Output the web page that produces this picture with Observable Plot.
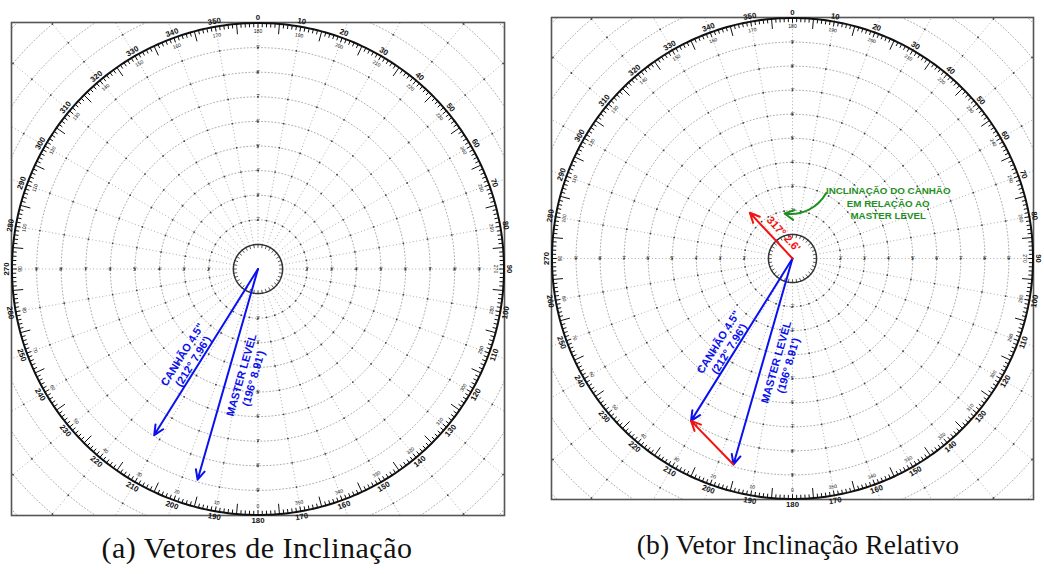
<!DOCTYPE html>
<html><head><meta charset="utf-8">
<script src="https://cdn.jsdelivr.net/npm/d3@7"></script>
<script src="https://cdn.jsdelivr.net/npm/@observablehq/plot@0.6"></script>
<style>
html,body{margin:0;padding:0;background:#fff;}
#root{position:relative;width:1044px;height:574px;overflow:hidden;background:#fff;}
.panel{position:absolute;}
.cap{position:absolute;font-family:"Liberation Serif","Times New Roman",serif;color:#111;white-space:nowrap;transform:translateX(-50%);line-height:34px;}
</style></head><body><div id="root"></div>
<script>
// ---- data ----
const bearingTicks = d3.range(0, 360, 10);
const degreeTicks = d3.range(0, 360, 1);
const ringValues = d3.range(1, 15);
const ringLabelValues = d3.range(2, 10);
const cardinalBearings = [0, 90, 180, 270];
const vectorNames = ["CANHÃO 4.5\"", "MASTER LEVEL"];
const vectorBearings = [212, 196];
const vectorMinutes = [7.96, 8.91];
const relativeBearing = 317;
const relativeMinutes = 2.6;
const annotationLines = ["INCLINAÇÃO DO CANHÃO", "EM RELAÇÃO AO", "MASTER LEVEL"];
const captions = ["(a) Vetores de Inclinação", "(b) Vetor Inclinação Relativo"];

// ---- helpers ----
const rad = d => d * Math.PI / 180;
const px = (b, r) => r * Math.sin(rad(b));
const py = (b, r) => r * Math.cos(rad(b));
const rot = b => (b > 90 && b < 270) ? b - 180 : b;

const BLUE = "#0a10f0", RED = "#f21212", GREEN = "#1f8f1f";
const D = 10.02, M = 18;

function circlePts(k, step) {
  return d3.range(0, 360 + step, step).map(a => ({k, x: px(a, k), y: py(a, k)}));
}

function panel(relative, SIZE) {
  const rings = ringValues.flatMap(k => circlePts(k, 2));
  const inters = ringValues.filter(k => k >= 2).flatMap(k => bearingTicks.map(b => ({x: px(b, k), y: py(b, k)})));
  const tickLen = b => b % 10 === 0 ? 0.2 : (b % 5 === 0 ? 0.42 : 0.17);
  const ringLabels = cardinalBearings.flatMap(b => ringLabelValues.map(k => ({b, k})));
  const vectors = vectorNames.map((name, i) => ({name, b: vectorBearings[i], m: vectorMinutes[i],
    label: `${name}\n(${vectorBearings[i]}° ${vectorMinutes[i]}')`}));
  const labelAlong = [4.58, 4.33], labelPerp = [0.52, -0.78];

  const marks = [
    Plot.line(rings.filter(d => d.k !== 1), {x: "x", y: "y", z: "k", stroke: "#a4a4a4", strokeWidth: 0.9, strokeDasharray: "1,2.4", clip: true}),
    Plot.link(bearingTicks, {x1: b => px(b, 1), y1: b => py(b, 1), x2: b => px(b, 15), y2: b => py(b, 15), stroke: "#a4a4a4", strokeWidth: 0.9, strokeDasharray: "1,2.4", clip: true}),
    Plot.dot(inters, {x: "x", y: "y", r: 0.9, fill: "#444", clip: true}),
    Plot.frame({stroke: "#555", strokeWidth: 1.6}),
    // compass ring
    Plot.line(circlePts(10, 1), {x: "x", y: "y", stroke: "#111", strokeWidth: 2}),
    Plot.link(degreeTicks, {x1: b => px(b, 10), y1: b => py(b, 10), x2: b => px(b, 10 - tickLen(b)), y2: b => py(b, 10 - tickLen(b)), stroke: "#111", strokeWidth: 1}),
    Plot.text(bearingTicks, {x: b => px(b, 10.22), y: b => py(b, 10.22), text: b => String(b), rotate: rot, fontSize: 7.8, fontWeight: "bold", fill: "#111"}),
    Plot.text(bearingTicks, {x: b => px(b, 9.64), y: b => py(b, 9.64), text: b => String((b + 180) % 360), rotate: rot, fontSize: 5, fill: "#111"}),
    // ring labels
    Plot.text(ringLabels, {x: d => px(d.b, d.k), y: d => py(d.b, d.k), text: d => `${d.k}'`, fontSize: 5, fill: "#333"}),
    // inner circle
    Plot.line(circlePts(1, 2), {x: "x", y: "y", stroke: "#333", strokeWidth: 1.5}),
    Plot.link(bearingTicks, {x1: b => px(b, 1), y1: b => py(b, 1), x2: b => px(b, 0.86), y2: b => py(b, 0.86), stroke: "#333", strokeWidth: 0.8}),
    // vectors
    Plot.arrow(vectors, {x1: () => 0, y1: () => 0, x2: d => px(d.b, d.m), y2: d => py(d.b, d.m), stroke: BLUE, strokeWidth: 2, headLength: 8, headAngle: 50}),
    Plot.text(vectors, {
      x: (d, i) => px(d.b, labelAlong[i]) + px(d.b + 90, labelPerp[i]),
      y: (d, i) => py(d.b, labelAlong[i]) + py(d.b + 90, labelPerp[i]),
      text: "label", rotate: d => d.b - 270, fontSize: 11, fontWeight: "bold", fill: BLUE, lineHeight: 1.15})
  ];

  if (relative) {
    const tipA = {x: px(vectorBearings[0], vectorMinutes[0]), y: py(vectorBearings[0], vectorMinutes[0])};
    const tipB = {x: px(vectorBearings[1], vectorMinutes[1]), y: py(vectorBearings[1], vectorMinutes[1])};
    const rel = [{b: relativeBearing, m: relativeMinutes, label: `${relativeBearing}° ${relativeMinutes}'`}];
    marks.push(
      Plot.arrow([0], {x1: () => tipB.x, y1: () => tipB.y, x2: () => tipA.x, y2: () => tipA.y, stroke: RED, strokeWidth: 2, headLength: 8, headAngle: 50}),
      Plot.arrow(rel, {x1: () => 0, y1: () => 0, x2: d => px(d.b, d.m), y2: d => py(d.b, d.m), stroke: RED, strokeWidth: 2, headLength: 8, headAngle: 50}),
      Plot.text(rel, {x: d => px(d.b, 1.0) + px(d.b + 90, 0.42), y: d => py(d.b, 1.0) + py(d.b + 90, 0.42), text: "label", rotate: d => d.b - 270, fontSize: 11, fontWeight: "bold", fill: RED}),
      Plot.arrow([0], {x1: () => 1.40, y1: () => 2.72, x2: () => -0.33, y2: () => 1.87, bend: 35, stroke: GREEN, strokeWidth: 2, headLength: 8, headAngle: 55}),
      Plot.text([annotationLines.join("\n")], {x: () => 3.98, y: () => 2.32, text: d => d, fontSize: 9.8, fontWeight: "bold", fill: GREEN, lineHeight: 1.28})
    );
  }

  return Plot.plot({
    width: SIZE + 2 * M, height: SIZE + 2 * M, margin: M,
    x: {domain: [-D, D], axis: null}, y: {domain: [-D, D], axis: null},
    style: {fontFamily: "'Liberation Sans', Arial, sans-serif", background: "transparent", overflow: "visible"},
    marks
  });
}

const root = document.getElementById("root");
const layout = [
  {cx: 257, cy: 268, size: 493, capY: 531, fs: 30, ls: 0.5, capX: 257},
  {cx: 792, cy: 258, size: 482, capY: 528, fs: 27.5, ls: 0.1, capX: 798}
];
layout.forEach((L, i) => {
  const el = panel(i === 1, L.size);
  el.classList.add("panel");
  el.style.left = (L.cx - L.size / 2 - M) + "px";
  el.style.top = (L.cy - L.size / 2 - M) + "px";
  root.appendChild(el);
  const cap = document.createElement("div");
  cap.className = "cap";
  cap.textContent = captions[i];
  cap.style.left = L.capX + "px";
  cap.style.top = L.capY + "px";
  cap.style.fontSize = L.fs + "px";
  cap.style.letterSpacing = L.ls + "px";
  root.appendChild(cap);
});
</script></body></html>
